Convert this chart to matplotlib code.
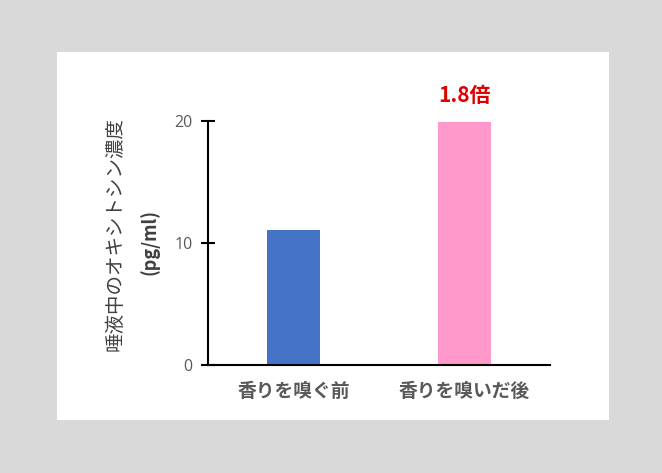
import matplotlib.pyplot as plt
from matplotlib.patches import Rectangle

plt.rcParams['font.family'] = ['Noto Sans CJK JP', 'DejaVu Sans']

categories = ["香りを嗅ぐ前", "香りを嗅いだ後"]
values = [11.1, 19.9]
colors = ["#4472c4", "#ff99cc"]
yticks = [0, 10, 20]
annotation = "1.8倍"
ylabel = "唾液中のオキシトシン濃度"
ylabel_unit = "(pg/ml)"

W, H = 662, 473
fig = plt.figure(figsize=(W / 100, H / 100), dpi=100)
fig.patch.set_facecolor("#d9d9d9")

# white panel
fig.patches.append(Rectangle((57 / W, 1 - 420 / H), (609 - 57) / W, (420 - 52) / H,
                             transform=fig.transFigure, facecolor="white",
                             edgecolor="none", zorder=-1))

ax = fig.add_axes([208 / W, 1 - 365 / H, (550 - 208) / W, (365 - 121) / H])
ax.set_facecolor("none")
ax.set_zorder(2)

x = range(len(categories))
ax.bar(x, values, width=0.31, color=colors, zorder=2)

ax.set_xlim(-0.5, 1.5)
ax.set_ylim(0, 20)
ax.set_yticks(yticks)
ax.set_xticks(list(x))
ax.set_xticklabels(categories, fontsize=13.5, color="#595959", fontweight="bold")
ax.tick_params(axis="x", length=0, pad=12)
ax.tick_params(axis="y", direction="inout", length=10, width=1.5, labelsize=11.5,
               labelcolor="#595959", pad=6)
for lab in ax.get_yticklabels():
    lab.set_fontfamily(["Open Sans", "DejaVu Sans"])

for s in ["top", "right"]:
    ax.spines[s].set_visible(False)
ax.spines["left"].set_linewidth(1.5)
ax.spines["bottom"].set_linewidth(1.5)

ax.text(1, values[1] + 1.3, annotation, ha="center", va="bottom", fontsize=15,
        color="#e00000", fontweight="bold", clip_on=False)

fig.text(115 / W, 1 - 234 / H, ylabel, rotation=90, ha="center", va="center",
         fontsize=14, color="#404040")
fig.text(150 / W, 1 - 242 / H, ylabel_unit, rotation=90, ha="center", va="center",
         fontsize=13, color="#404040", fontweight="bold")

fig.savefig("out.png", dpi=100, facecolor=fig.get_facecolor())
